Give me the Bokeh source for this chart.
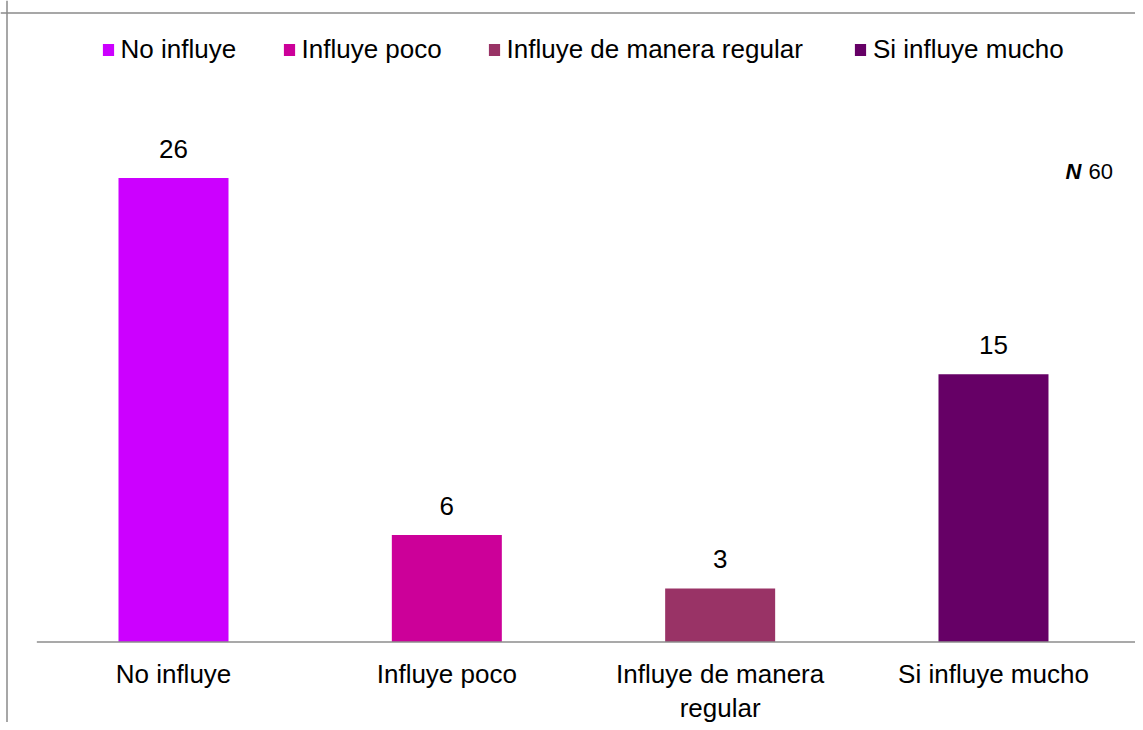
from bokeh.plotting import figure
from bokeh.models import Range1d, Span, Legend, LegendItem, Label, ColumnDataSource
from bokeh.embed import file_html
from bokeh.resources import INLINE
from bokeh.core.properties import value

# ---- data ----
categories = ["No influye", "Influye poco", "Influye de manera regular", "Si influye mucho"]
tick_labels = ["No influye", "Influye poco", "Influye de manera\nregular", "Si influye mucho"]
values = [26, 6, 3, 15]
colors = ["#CC00FF", "#CC0099", "#993366", "#660066"]
n_total = 60

FONT = "Liberation Sans"
W, H = 1135, 722

# pixel geometry helpers (screen px -> data)
X0, XS = 173.0, 273.33      # screen x of first category centre, px per category
Y0, YS = 641.5, 17.85       # screen y of zero line, px per unit


def dx(px):
    return (px - X0) / XS


def dy(py):
    return (Y0 - py) / YS


xs = list(range(len(categories)))
src = ColumnDataSource(dict(x=xs, top=values, color=colors, cat=categories,
                            tick=tick_labels, lbl=[str(v) for v in values]))

p = figure(width=W, height=H, output_backend="svg", toolbar_location=None,
           x_range=Range1d(dx(0), dx(W)), y_range=Range1d(dy(H), dy(0)),
           x_axis_location=None, y_axis_location=None,
           min_border=0, min_border_left=0, min_border_right=0,
           min_border_top=0, min_border_bottom=0)
p.outline_line_color = None
p.grid.visible = False
p.background_fill_color = "white"
p.border_fill_color = "white"

# outer frame (left and top edges)
p.add_layout(Span(location=dx(6.5), dimension="height",
                  line_color="#8a8a8a", line_width=1.5))
p.add_layout(Span(location=dy(12.5), dimension="width",
                  line_color="#8a8a8a", line_width=1.5))

bars = p.vbar(x="x", top="top", width=110 / XS, bottom=0, source=src,
              fill_color="color", line_color=None)

# category axis line
p.segment(x0=[xs[0] - 0.5], x1=[xs[-1] + 0.6], y0=[0], y1=[0],
          line_color="#8c8c8c", line_width=1.5)

# value labels
p.text(x="x", y="top", text="lbl", source=src, text_align="center",
       text_baseline="alphabetic", y_offset=-29,
       text_font=value(FONT), text_font_size="26px", text_color="black")

# category labels
p.text(x="x", y=0, text="tick", source=src, text_align="center",
       text_baseline="top", y_offset=17, text_line_height=1.12,
       text_font=value(FONT), text_font_size="26px", text_color="black")

# N 60 annotation
p.add_layout(Label(x=dx(1065), y=dy(170.5), text="N",
                   text_font=FONT, text_font_size="22px", text_font_style="bold italic",
                   text_color="black", text_baseline="alphabetic"))
p.add_layout(Label(x=dx(1088), y=dy(170.5), text=str(n_total),
                   text_font=FONT, text_font_size="22px",
                   text_color="black", text_baseline="alphabetic"))

# legend: one entry per category, placed across the top
legend_x = [100.5, 281.5, 486.5, 853]
for i, cat in enumerate(categories):
    lg = Legend(items=[LegendItem(label=cat, renderers=[bars], index=i)],
                location=(legend_x[i], 657), orientation="horizontal",
                glyph_width=14, glyph_height=15, label_standoff=6,
                label_text_font=FONT, label_text_font_size="26px",
                label_text_color="black", padding=0, margin=0, spacing=0,
                border_line_color=None, background_fill_alpha=0)
    p.add_layout(lg)

open("out.html", "w").write(file_html(p, INLINE))
